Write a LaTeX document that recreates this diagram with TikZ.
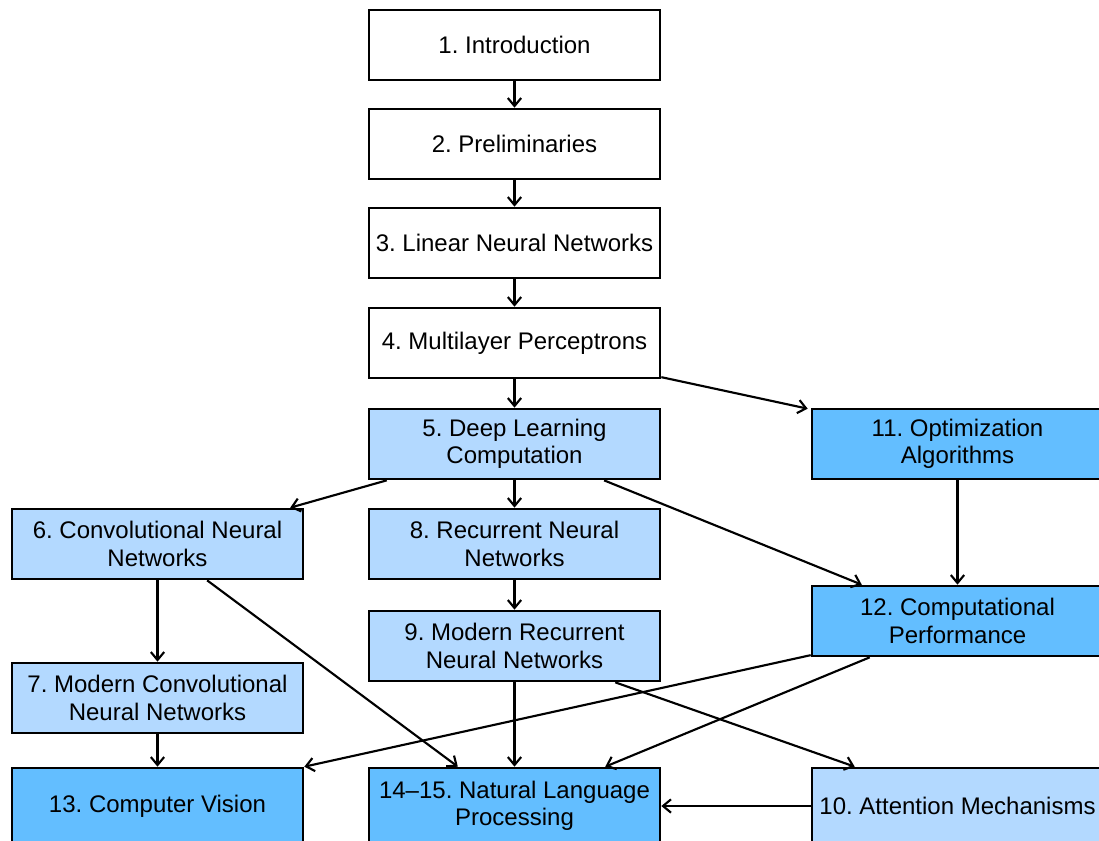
\documentclass[tikz,border=0pt]{standalone}
\usepackage{fontspec}
\setmainfont{Liberation Sans}
\usetikzlibrary{arrows.meta,calc}
\definecolor{lightb}{HTML}{B3D9FF}
\definecolor{darkb}{HTML}{63BEFF}
\frenchspacing
\begin{document}
\begin{tikzpicture}[x=0.75pt,y=-0.75pt,
  box/.style={draw=black, line width=2pt, minimum width=218.25pt, minimum height=52.5pt,
    inner sep=0pt, align=center, font=\fontsize{18}{20.5}\selectfont},
  wbox/.style={box, fill=white},
  lbox/.style={box, fill=lightb},
  dbox/.style={box, fill=darkb},
  lowbox/.style={minimum height=57pt},
  conn/.style={line width=1.6pt, -{Straight Barb[length=6pt,width=10pt]}}]
\useasboundingbox (0,0) rectangle (1099,840);
\fill[white] (0,0) rectangle (1099,840);
\begin{scope}
\clip (0,0) rectangle (1099,840);
\node[wbox] (n1) at (514.5,45) {1. Introduction};
\node[wbox] (n2) at (514.5,144) {2. Preliminaries};
\node[wbox] (n3) at (514.5,243) {3. Linear Neural Networks};
\node[wbox] (n4) at (514.5,343) {4. Multilayer Perceptrons};
\node[lbox] (n5) at (514.5,444) {5. Deep Learning\\Computation};
\node[dbox] (n11) at (957.5,444) {11. Optimization\\Algorithms};
\node[lbox] (n6) at (157.5,544) {6. Convolutional Neural\\Networks};
\node[lbox] (n8) at (514.5,544) {8. Recurrent Neural\\Networks};
\node[dbox] (n12) at (957.5,621) {12. Computational\\Performance};
\node[lbox] (n9) at (514.5,646) {9. Modern Recurrent\\Neural Networks};
\node[lbox] (n7) at (157.5,698) {7. Modern Convolutional\\Neural Networks};
\node[dbox, lowbox] (n13) at (157.5,806) {13. Computer Vision};
\node[dbox, lowbox] (n14) at (514.5,806) {14–15. Natural Language\\Processing};
\node[lbox, lowbox] (n10) at (957.5,806) {10. Attention Mechanisms};

\draw[conn] (n1) -- (n2);
\draw[conn] (n2) -- (n3);
\draw[conn] (n3) -- (n4);
\draw[conn] (n4) -- (n5);
\draw[conn] ($(n4.south east)!0.03!(n4.north east)$) -- ($(n11.north west)+(-3,1)$);
\draw[conn] ($(n5.south west)!0.065!(n5.south east)$) -- ($(n6.north west)!0.952!(n6.north east)$);
\draw[conn] (n5) -- (n8);
\draw[conn] ($(n5.south west)!0.805!(n5.south east)$) -- ($(n12.north west)!0.174!(n12.north east)$);
\draw[conn] (n11) -- (n12);
\draw[conn] (n6) -- (n7);
\draw[conn] ($(n6.south west)!0.669!(n6.south east)$) -- ($(n14.north west)!0.307!(n14.north east)$);
\draw[conn] (n8) -- (n9);
\draw[conn] (n9) -- (n14);
\draw[conn] ($(n9.south west)!0.843!(n9.south east)$) -- ($(n10.north west)!0.150!(n10.north east)$);
\draw[conn] ($(n12.south west)!0.03!(n12.north west)$) -- (n13.north east);
\draw[conn] ($(n12.south west)!0.201!(n12.south east)$) -- ($(n14.north west)!0.809!(n14.north east)$);
\draw[conn] (n7) -- (n13);
\draw[conn] (n10) -- (n14);
\end{scope}
\end{tikzpicture}
\end{document}
